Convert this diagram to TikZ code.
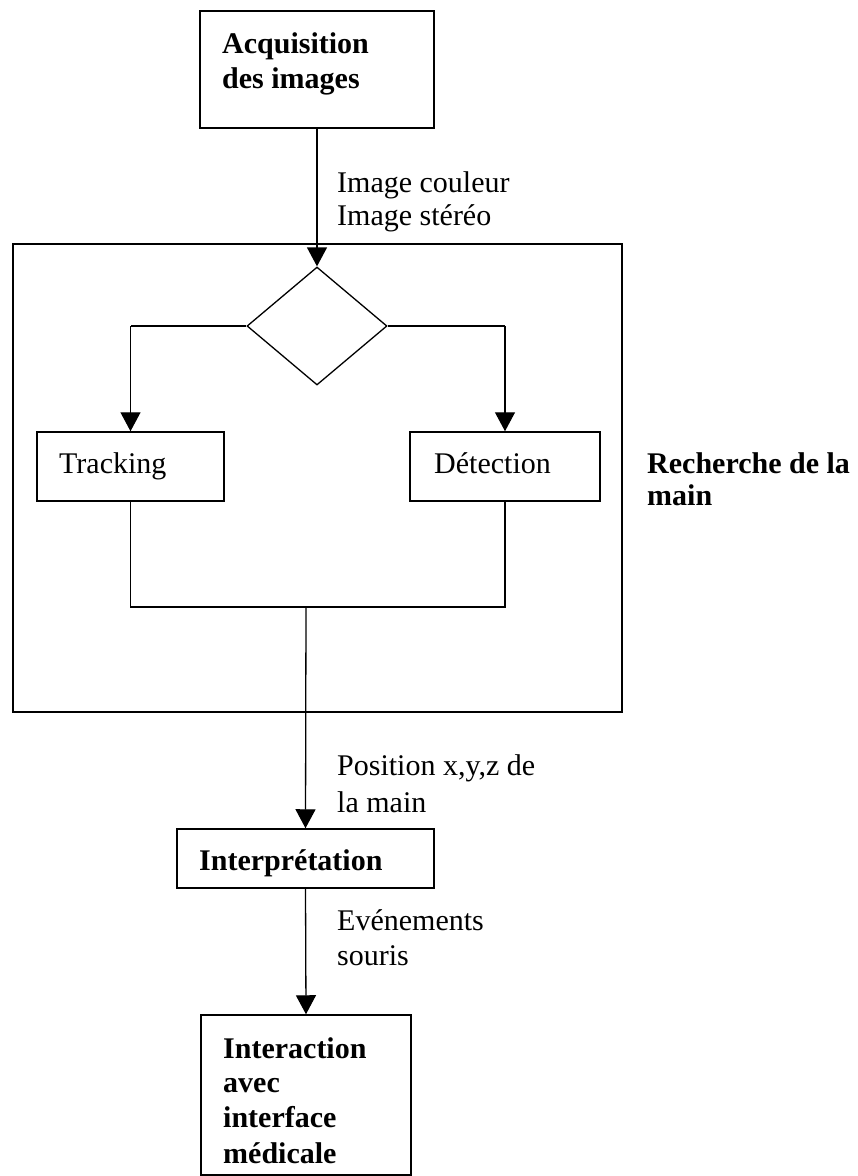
\documentclass[tikz,border=0pt]{standalone}
\usepackage{fontspec}
\setmainfont{Liberation Serif}
\usetikzlibrary{arrows.meta,shapes.geometric}
\begin{document}
\begin{tikzpicture}[x=1pt,y=-1pt,
  box/.style={draw, line width=1.5pt, rectangle, inner sep=0pt},
  frame/.style={draw, line width=1.5pt, rectangle, inner sep=0pt},
  decision/.style={draw, line width=1.3pt, diamond, inner sep=0pt},
  txt/.style={anchor=base west, inner sep=0pt, font=\fontsize{30}{34}\selectfont},
  btxt/.style={txt, font=\fontsize{30}{34}\selectfont\bfseries},
  link/.style={line width=1.3pt},
  flow/.style={link, -{Triangle[length=19pt,width=20pt]}}]
\useasboundingbox (0,0) rectangle (858,1176);

% boxes
\node[box, minimum width=234pt, minimum height=117pt] (acq) at (317,69.5) {};
\node[frame, minimum width=609pt, minimum height=468pt] (frame) at (317.5,478) {};
\node[decision, minimum width=140pt, minimum height=118pt] (dec) at (317,326) {};
\node[box, minimum width=187pt, minimum height=69pt] (track) at (130.5,466.5) {};
\node[box, minimum width=190pt, minimum height=69pt] (detect) at (505,466.5) {};
\node[box, minimum width=257pt, minimum height=59pt] (interp) at (305.5,858.5) {};
\node[box, minimum width=210pt, minimum height=160pt] (inter) at (306,1095) {};

% junction points
\coordinate (tl) at (track.north |- dec.west);
\coordinate (tr) at (detect.north |- dec.east);
\coordinate (bl) at (track.south |- 0,607);
\coordinate (br) at (detect.south |- 0,607);
\coordinate (join) at (306,607);

% connectors
\draw[flow] (acq.south) -- (dec.north);
\draw[link] (dec.west) -- (tl);
\draw[flow] (tl) -- (track.north);
\draw[link] (dec.east) -- (tr);
\draw[flow] (tr) -- (detect.north);
\draw[link] (track.south) -- (bl) -- (br) -- (detect.south);
\draw[flow] (join) -- (interp.north);
\draw[flow] (interp.south) -- (inter.north);

% texts
\node[btxt] (t1) at (222,53) {Acquisition};
\node[btxt] (t2) at (222,88) {des images};
\node[txt] (l1) at (337,192) {Image couleur};
\node[txt] (l2) at (337,225) {Image stéréo};
\node[txt] (t3) at (59,473) {Tracking};
\node[txt] (t4) at (434,473) {Détection};
\node[btxt] (t5) at (647,473) {Recherche de la};
\node[btxt] (t6) at (647,505) {main};
\node[txt] (l3) at (337,775) {Position x,y,z de};
\node[txt] (l4) at (337,812) {la main};
\node[btxt] (t7) at (199,870) {Interprétation};
\node[txt] (l5) at (337,930) {Evénements};
\node[txt] (l6) at (337,965) {souris};
\node[btxt] (t8) at (223,1058) {Interaction};
\node[btxt] (t9) at (223,1092) {avec};
\node[btxt] (t10) at (223,1127) {interface};
\node[btxt] (t11) at (223,1163) {médicale};
\end{tikzpicture}
\end{document}
